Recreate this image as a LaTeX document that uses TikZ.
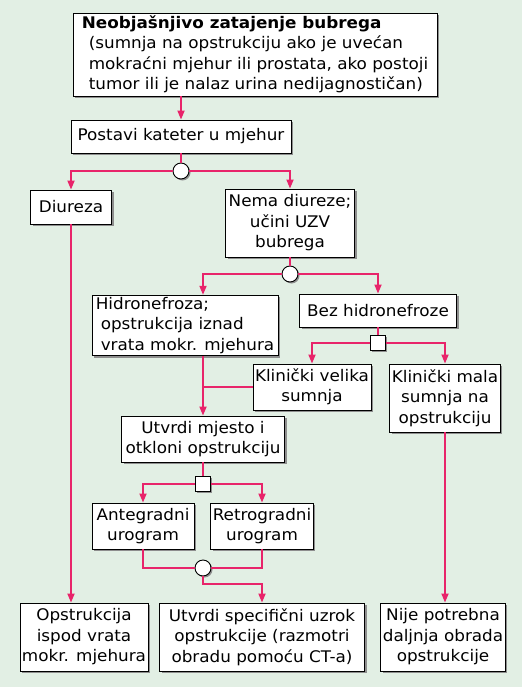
\documentclass[tikz,border=0pt]{standalone}
\usepackage{fontspec}
\setmainfont{DejaVu Sans}[FakeStretch=1.05]
\usetikzlibrary{arrows.meta, shadows}
\definecolor{mint}{HTML}{E2EFE4}
\definecolor{rose}{HTML}{E8246A}
\definecolor{shade}{HTML}{8E8E8E}
\tikzset{
  box/.style={draw=black, fill=white, line width=0.9pt, align=center, inner sep=2pt,
              font=\fontsize{16}{20.5}\selectfont,
              drop shadow={shadow xshift=2pt, shadow yshift=-2pt, fill=shade, opacity=1}},
  dot/.style={circle, draw=black, fill=white, line width=0.9pt, minimum size=16pt, inner sep=0pt,
              drop shadow={shadow xshift=1.5pt, shadow yshift=-1.5pt, fill=shade, opacity=1}},
  sq/.style={rectangle, draw=black, fill=white, line width=0.9pt, minimum size=15pt, inner sep=0pt,
             drop shadow={shadow xshift=1.5pt, shadow yshift=-1.5pt, fill=shade, opacity=1}},
  arr/.style={-{Triangle[length=9pt, width=7pt]}, line width=1.7pt, draw=rose},
  ln/.style={line width=1.7pt, draw=rose},
}

\begin{document}
\begin{tikzpicture}[x=1pt, y=-1pt]
  \fill[mint] (0,0) rectangle (522,687);
  \node[box, align=left, minimum width=364pt, minimum height=83pt] (title) at (255,54.5)
    {\textbf{Neobjašnjivo zatajenje bubrega}\\
     \hspace*{7pt}(sumnja na opstrukciju ako je uvećan\\
     \hspace*{7pt}mokraćni mjehur ili prostata, ako postoji\\
     \hspace*{7pt}tumor ili je nalaz urina nedijagnostičan)};
  \node[box, minimum width=220pt, minimum height=33pt] (kat) at (181,136.5) {Postavi kateter u mjehur};
  \node[dot] (c1) at (181,171) {};
  \node[box, minimum width=81pt, minimum height=34pt] (diu) at (71,207) {Diureza};
  \node[box, minimum width=129pt, minimum height=68pt] (nema) at (290,223) {Nema diureze;\\učini UZV\\bubrega};
  \node[dot] (c2) at (290,274) {};
  \node[box, align=left, minimum width=186pt, minimum height=59pt] (hidro) at (185,325.5)
    {Hidronefroza;\\\hspace*{5pt}opstrukcija iznad\\\hspace*{5pt}vrata mokr. mjehura};
  \node[box, minimum width=157pt, minimum height=33pt] (bez) at (378,310.5) {Bez hidronefroze};
  \node[sq] (s3) at (378,343) {};
  \node[box, minimum width=118pt, minimum height=46pt] (kvel) at (312,387) {Klinički velika\\sumnja};
  \node[box, minimum width=107pt, minimum height=68pt] (kmal) at (445,398) {Klinički mala\\sumnja na\\opstrukciju};
  \node[box, minimum width=163pt, minimum height=46pt] (utv) at (203,439) {Utvrdi mjesto i\\otkloni opstrukciju};
  \node[sq] (s4) at (203,484) {};
  \node[box, minimum width=102pt, minimum height=46pt] (ante) at (143,526) {Antegradni\\urogram};
  \node[box, minimum width=102pt, minimum height=46pt] (retro) at (262,526) {Retrogradni\\urogram};
  \node[dot] (c5) at (203,568) {};
  \node[box, minimum width=126pt, minimum height=68pt] (opsi) at (84,637) {Opstrukcija\\ispod vrata\\mokr. mjehura};
  \node[box, minimum width=205pt, minimum height=68pt] (spec) at (262,637) {Utvrdi specifični uzrok\\opstrukcije (razmotri\\obradu pomoću CT-a)};
  \node[box, minimum width=124pt, minimum height=68pt] (nije) at (443,637) {Nije potrebna\\daljnja obrada\\opstrukcije};
  \draw[arr] (kat |- title.south) -- (kat);
  \draw[ln] (kat) -- (c1);
  \draw[arr] (c1) -| (diu);
  \draw[arr] (c1) -| (nema);
  \draw[ln] (nema) -- (c2);
  \draw[arr] (c2) -| (utv |- hidro.north);
  \draw[arr] (c2) -| (bez);
  \draw[ln] (bez) -- (s3);
  \draw[arr] (s3) -| (kvel);
  \draw[arr] (s3) -| (kmal);
  \draw[arr] (utv |- hidro.south) -- (utv);
  \draw[ln] (kvel.west) -- (kvel.west -| utv);
  \draw[ln] (utv) -- (s4);
  \draw[arr] (s4) -| (ante);
  \draw[arr] (s4) -| (retro);
  \draw[ln] (ante) |- (c5);
  \draw[ln] (retro) |- (c5);
  \draw[arr] (c5) -- ++(0,16) -| (spec);
  \draw[arr] (diu) -- (diu |- opsi.north);
  \draw[arr] (kmal) -- (kmal |- nije.north);
\end{tikzpicture}
\end{document}
